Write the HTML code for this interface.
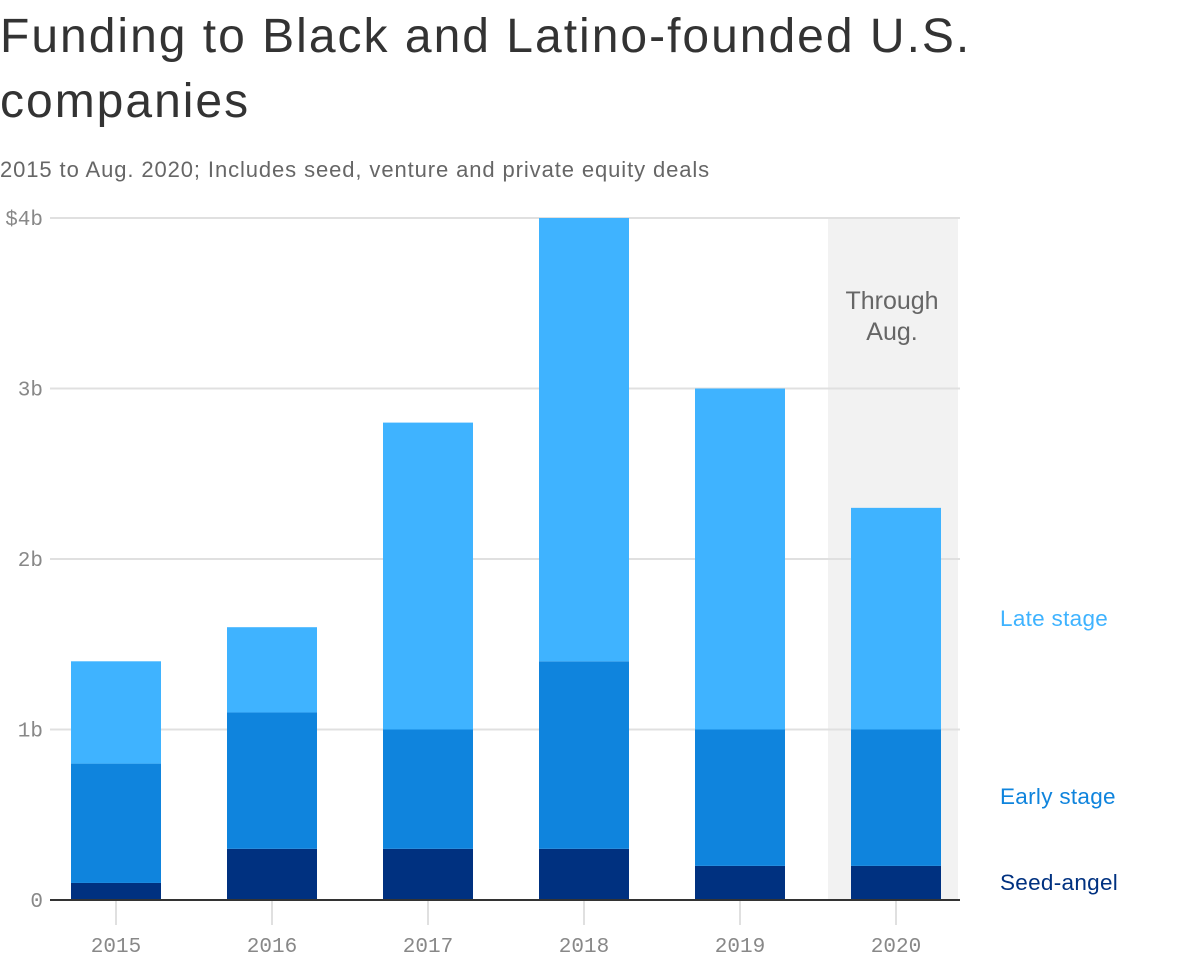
<!DOCTYPE html>
<html><head><meta charset="utf-8"><style>
body{margin:0;width:1200px;height:980px;background:#fff;overflow:hidden;font-family:"Liberation Sans",sans-serif}
#title{position:absolute;left:0;top:4px;font-size:48px;letter-spacing:2px;line-height:65px;color:#333;width:1050px;margin:0;font-weight:normal}
#sub{position:absolute;left:0;top:157px;font-size:22px;letter-spacing:0.9px;color:#666}
svg{position:absolute;left:0;top:0}
</style></head><body>
<h1 id="title">Funding to Black and Latino-founded U.S. companies</h1>
<div id="sub">2015 to Aug. 2020; Includes seed, venture and private equity deals</div>
<svg id="chart" width="1200" height="980"></svg>
<script>
const years=["2015","2016","2017","2018","2019","2020"];
const seed=[0.1,0.3,0.3,0.3,0.2,0.2];
const early=[0.7,0.8,0.7,1.1,0.8,0.8];
const late=[0.6,0.5,1.8,2.6,2.0,1.3];
const yTicks=[0,1,2,3,4];
const yTickLabels=["0","1b","2b","3b","$4b"];
const series=[{name:"Seed-angel",vals:seed,c:"#003180"},{name:"Early stage",vals:early,c:"#0f84dd"},{name:"Late stage",vals:late,c:"#3fb3ff"}];
const NS="http://www.w3.org/2000/svg",svg=document.getElementById('chart');
const y=v=>900-v*170.5, x=i=>116+i*156, bw=90;
function mk(t,a,p){const e=document.createElementNS(NS,t);for(const k in a)e.setAttribute(k,a[k]);(p||svg).appendChild(e);return e;}
const sh=mk('rect',{x:x(5)-68,y:y(4),width:130,height:y(0)-y(4),fill:'#f2f2f2'});


const st=mk('text',{x:x(5)-4,y:309,'text-anchor':'middle','font-size':25,fill:'#666','font-family':'Liberation Sans, sans-serif'});


st.innerHTML='<tspan x="'+(x(5)-4)+'">Through</tspan><tspan x="'+(x(5)-4)+'" dy="31">Aug.</tspan>';
yTicks.forEach((t,i)=>{
 if(t>0){const g=mk('line',{x1:50,x2:960,y1:y(t),y2:y(t),stroke:'#e0e0e0','stroke-width':2});
 
 }
 const l=mk('text',{x:43,y:y(t)+7,'text-anchor':'end','font-size':21,fill:'#888','font-family':'Liberation Mono, monospace'});
 l.textContent=yTickLabels[i];
 
 
});
years.forEach((yr,i)=>{
 let base=0;
 series.forEach(s=>{const v=s.vals[i];
  const r=mk('rect',{x:x(i)-bw/2,y:y(base+v),width:bw,height:y(base)-y(base+v),fill:s.c});
  
  
  base+=v;});
 const tk=mk('line',{x1:x(i),x2:x(i),y1:901,y2:925,stroke:'#e0e0e0','stroke-width':2});
 
 
 const l=mk('text',{x:x(i),y:952,'text-anchor':'middle','font-size':21,fill:'#888','font-family':'Liberation Mono, monospace'});
 l.textContent=yr;
 
 
});
const ax=mk('line',{x1:50,x2:960,y1:900,y2:900,stroke:'#333','stroke-width':2});


const legY=[882,796,618];
series.forEach((s,k)=>{
 const t=mk('text',{x:1000,y:legY[k]+8,'font-size':22.5,'letter-spacing':0.3,fill:s.c,'font-family':'Liberation Sans, sans-serif'});
 t.textContent=s.name;
 
 
});
</script>
</body></html>
